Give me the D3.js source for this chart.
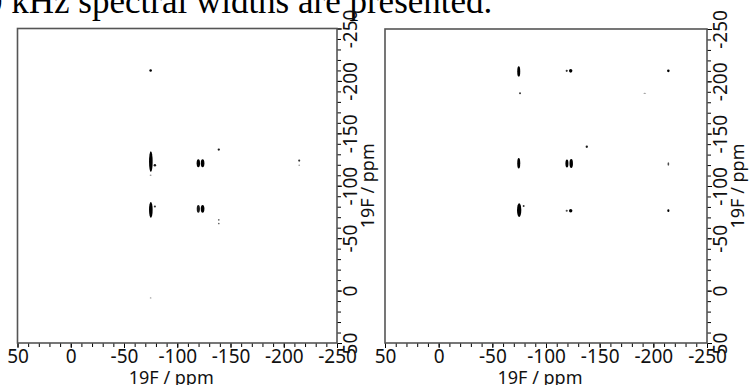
<!DOCTYPE html>
<html>
<head>
<meta charset="utf-8">
<script src="https://cdn.jsdelivr.net/npm/d3@7"></script>
<style>
body { margin: 0; background: #fff; overflow: hidden; }
.tick text { font-family: "Noto Sans", sans-serif; }
</style>
</head>
<body>
<script>
// ppm range shown on both axes
var ppmDomain = [50, -250];
var majorTicks = [50, 0, -50, -100, -150, -200, -250];
var minorTicks = d3.range(50, -251, -10);
var axisTitle = '19F / ppm';
var caption = '0 kHz spectral widths are presented.';

// peaks: [F2 ppm, F1 ppm, F2 width ppm, F1 width ppm, relative intensity]
var leftPeaks = [
    [-75, -210, 2.4, 2.4, 1],
    [-75.2, -123, 3.4, 20, 1],
    [-79, -119.5, 2.4, 2.4, 0.9],
    [-75, -110, 1.8, 1.5, 0.4],
    [-119.8, -121.5, 3.2, 7.5, 1],
    [-123.8, -121.5, 3.4, 7.5, 1],
    [-139, -134.5, 2.2, 2.2, 0.9],
    [-214.5, -124, 2, 2, 0.8],
    [-214.5, -119.5, 1.5, 1.5, 0.4],
    [-75.2, -77, 3.4, 15, 1],
    [-79, -80.2, 2, 2, 0.8],
    [-119.8, -78, 3, 7.5, 0.9],
    [-123.8, -78, 3.4, 7.5, 1],
    [-139, -67.5, 1.6, 1.6, 0.6],
    [-139, -64, 1.6, 1.6, 0.6],
    [-75, 7, 1.6, 1.2, 0.4]
];
var rightPeaks = [
    [-74.6, -209.5, 2.8, 10, 1],
    [-119.3, -210, 2, 2, 0.8],
    [-123, -210, 3.2, 3.4, 1],
    [-214, -210, 2.4, 2.6, 1],
    [-75.8, -188.6, 1.8, 1.8, 0.8],
    [-192, -188.6, 2.8, 0.8, 0.5],
    [-138, -137.5, 2.2, 2.2, 0.9],
    [-74.6, -121.7, 2.8, 10, 1],
    [-119.5, -121.5, 2.8, 7.5, 1],
    [-123.5, -121.5, 3.2, 8.5, 1],
    [-214, -121, 1.6, 3.4, 0.7],
    [-75, -77, 4, 13, 1],
    [-79.2, -80.9, 1.8, 1.8, 0.8],
    [-119.3, -76.4, 2, 2, 0.7],
    [-123, -76.4, 3.2, 3.4, 1],
    [-214, -76.4, 2, 2.6, 1]
];

var w = 751, h = 385;
var svg = d3.select('body').append('svg')
    .attr('width', w)
    .attr('height', h);

// cut-off line of text from the page above the figure
svg.append('text')
    .attr('x', -15)
    .attr('y', 13)
    .attr('font-family', '"Liberation Serif", "Times New Roman", serif')
    .attr('font-size', 35)
    .attr('fill', '#000')
    .text(caption);

var shade = d3.scaleLinear().domain([0, 1]).range(['#ffffff', '#000000']);
var fmt = function(d) { return String(d); };

var panel = function(peaks, x0, x1, y0, y1) {
    var x = d3.scaleLinear().domain(ppmDomain).range([x0, x1]);
    var y = d3.scaleLinear().domain(ppmDomain.slice().reverse()).range([y0, y1]);
    var g = svg.append('g');

    g.selectAll('ellipse')
        .data(peaks)
        .enter()
        .append('ellipse')
        .attr('cx', function(d) { return x(d[0]); })
        .attr('cy', function(d) { return y(d[1]); })
        .attr('rx', function(d) { return Math.abs(x(d[0] + d[2] / 2) - x(d[0])); })
        .attr('ry', function(d) { return Math.abs(y(d[1] + d[3] / 2) - y(d[1])); })
        .attr('fill', function(d) { return shade(d[4]); });

    // bottom axis: minor ticks then labelled major ticks
    g.append('g')
        .attr('transform', 'translate(0,' + y1 + ')')
        .call(d3.axisBottom(x).tickValues(minorTicks).tickSize(4).tickFormat(''))
        .call(function(a) { a.select('.domain').remove(); });
    g.append('g')
        .attr('transform', 'translate(0,' + y1 + ')')
        .call(d3.axisBottom(x).tickValues(majorTicks).tickSize(5).tickPadding(1).tickFormat(fmt))
        .call(function(a) {
            a.select('.domain').remove();
            a.selectAll('text').attr('font-size', 19).attr('fill', '#111').attr('dy', '0.72em');
        });

    // right axis with rotated labels
    g.append('g')
        .attr('transform', 'translate(' + x1 + ',0)')
        .call(d3.axisRight(y).tickValues(minorTicks).tickSize(4).tickFormat(''))
        .call(function(a) { a.select('.domain').remove(); });
    g.append('g')
        .attr('transform', 'translate(' + x1 + ',0)')
        .call(d3.axisRight(y).tickValues(majorTicks).tickSize(5).tickFormat(fmt))
        .call(function(a) {
            a.select('.domain').remove();
            a.selectAll('text')
                .attr('font-size', 19)
                .attr('fill', '#111')
                .attr('x', null)
                .attr('dy', null)
                .attr('text-anchor', 'middle')
                .attr('transform', 'translate(20,0) rotate(-90)');
        });

    // frame
    g.append('rect')
        .attr('x', x0)
        .attr('y', y0)
        .attr('width', x1 - x0)
        .attr('height', y1 - y0)
        .attr('fill', 'none')
        .attr('stroke', '#555')
        .attr('stroke-width', 1.6);

    g.append('text')
        .attr('x', (x0 + x1) / 2 - 6)
        .attr('y', 384)
        .attr('text-anchor', 'middle')
        .attr('font-family', '"Noto Sans", sans-serif')
        .attr('font-size', 18)
        .attr('fill', '#111')
        .text(axisTitle);
    g.append('text')
        .attr('transform', 'translate(' + (x1 + 37) + ',' + ((y0 + y1) / 2) + ') rotate(-90)')
        .attr('text-anchor', 'middle')
        .attr('font-family', '"Noto Sans", sans-serif')
        .attr('font-size', 18)
        .attr('fill', '#111')
        .text(axisTitle);
};

panel(leftPeaks, 17.5, 337, 28.5, 343);
panel(rightPeaks, 385, 707, 29, 343);
</script>
</body>
</html>
